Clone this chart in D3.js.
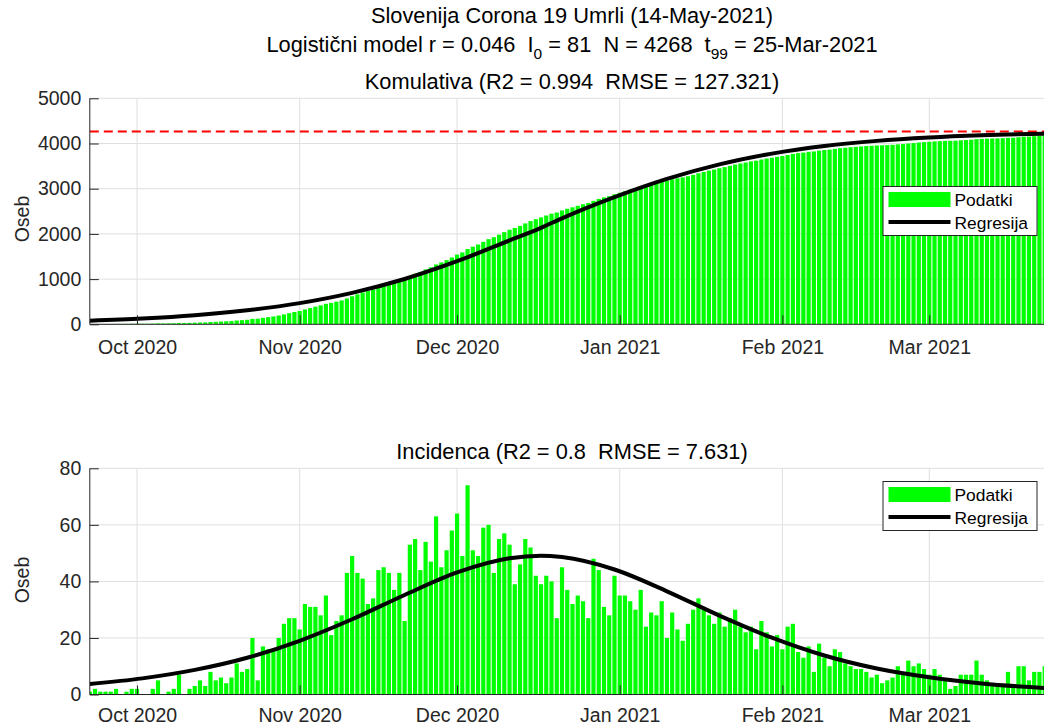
<!DOCTYPE html>
<html>
<head>
<meta charset="utf-8">
<script src="https://cdn.jsdelivr.net/npm/d3@7"></script>
<style>
  body { margin: 0; background: #fff; }
  text { font-family: "Liberation Sans", Arial, Helvetica, sans-serif; }
</style>
</head>
<body>
<svg id="chart" width="1044" height="725"></svg>
<script>
// ---- data ----
const startDay = "2020-09-22";   // first bar
const endDay = "2021-03-25";     // t99, right end of the x axis
const monthTicks = ["2020-10-01", "2020-11-01", "2020-12-01", "2021-01-01", "2021-02-01", "2021-03-01"];

// daily deaths (incidenca), one per day from startDay
const umrli = [
  1, 2, 1, 1, 1, 2, 0, 1, 2, 2,
  0, 0, 2, 5, 0, 1, 2, 7, 0, 2,
  3, 5, 3, 8, 5, 6, 4, 6, 11, 8,
  9, 20, 5, 17, 16, 16, 20, 25, 27, 27,
  23, 32, 31, 31, 28, 35, 21, 26, 28, 43,
  49, 43, 41, 32, 34, 44, 45, 43, 37, 43,
  26, 53, 55, 44, 54, 47, 63, 45, 51, 58,
  64, 49, 74, 51, 49, 59, 60, 43, 55, 57,
  53, 39, 46, 55, 52, 42, 39, 42, 40, 27,
  45, 37, 32, 35, 33, 27, 48, 44, 31, 28,
  42, 35, 35, 33, 30, 37, 24, 29, 28, 33,
  20, 29, 23, 19, 25, 30, 34, 31, 28, 25,
  29, 24, 27, 30, 24, 22, 24, 16, 26, 22,
  17, 21, 16, 24, 25, 15, 13, 17, 8, 18,
  13, 10, 16, 15, 11, 10, 9, 9, 8, 6,
  7, 4, 5, 6, 10, 7, 12, 10, 11, 9,
  7, 9, 7, 5, 2, 3, 7, 7, 7, 12,
  7, 5, 3, 3, 3, 8, 3, 10, 10, 5,
  8, 8, 10
];

// regression curves (day index from startDay)
const regDay = [0, 10, 20, 30, 40, 50, 60, 70, 80, 86, 90, 100, 110, 120, 130, 140, 150, 160, 170, 184];
const regKum = [81, 128, 200, 310, 468, 695, 1002, 1395, 1856, 2134, 2344, 2812, 3216, 3538, 3776, 3944, 4058, 4132, 4181, 4222];
const regInc = [3.7, 5.7, 8.7, 13.0, 19.0, 26.6, 35.2, 43.2, 48.2, 49.1, 48.6, 44.2, 36.5, 27.9, 20.1, 13.8, 9.2, 6.1, 3.9, 2.1];

const N = 4268;

// ---- layout ----
const svg = d3.select("#chart");
const parse = d3.utcParse("%Y-%m-%d");
const t0 = parse(startDay);
const dayOf = i => d3.utcDay.offset(t0, i);

const left = 89.8, right = 1055.2;
const x = d3.scaleUtc().domain([t0, parse(endDay)]).range([left, right]);
const step = x(dayOf(1)) - x(dayOf(0));
const barW = step * 0.8;

const axisCol = "#262626", gridCol = "#dfdfdf", green = "#00ff00";
const fmt = d3.utcFormat("%b %Y");

const kumulativa = d3.cumsum(umrli);

svg.append("rect").attr("width", 1044).attr("height", 725).attr("fill", "#fff");

// figure title (two lines)
svg.append("text").attr("x", 572).attr("y", 23).attr("text-anchor", "middle")
  .style("font-size", "21.8px").attr("fill", "#000")
  .text("Slovenija Corona 19 Umrli (14-May-2021)");

const t2 = svg.append("text").attr("x", 572).attr("y", 52).attr("text-anchor", "middle")
  .style("font-size", "21.8px").style("white-space", "pre").attr("fill", "#000");
t2.append("tspan").text("Logistični model r = 0.046  I");
t2.append("tspan").attr("dy", 7).style("font-size", "15.5px").text("0");
t2.append("tspan").attr("dy", -7).text(" = 81  N = 4268  t");
t2.append("tspan").attr("dy", 7).style("font-size", "15.5px").text("99");
t2.append("tspan").attr("dy", -7).text(" = 25-Mar-2021");

function panel(cfg) {
  const y = d3.scaleLinear().domain(cfg.domain).range([cfg.bottom, cfg.top]);
  const g = svg.append("g");
  const clipId = "clip" + cfg.id;
  svg.append("clipPath").attr("id", clipId).append("rect")
    .attr("x", left).attr("y", cfg.top - 2).attr("width", right - left).attr("height", cfg.bottom - cfg.top + 2);

  // grid
  g.append("g").selectAll("line").data(cfg.ticks).join("line")
    .attr("x1", left).attr("x2", right)
    .attr("y1", d => y(d)).attr("y2", d => y(d))
    .attr("stroke", gridCol).attr("stroke-width", 1);
  g.append("g").selectAll("line").data(monthTicks).join("line")
    .attr("x1", d => x(parse(d))).attr("x2", d => x(parse(d)))
    .attr("y1", cfg.top).attr("y2", cfg.bottom)
    .attr("stroke", gridCol).attr("stroke-width", 1);

  const plot = g.append("g").attr("clip-path", `url(#${clipId})`);

  // bars
  plot.append("g").selectAll("rect").data(cfg.values).join("rect")
    .attr("x", (d, i) => x(dayOf(i)) - barW / 2)
    .attr("width", barW)
    .attr("y", d => y(d))
    .attr("height", d => y(0) - y(d))
    .attr("fill", green);

  if (cfg.limit != null) {
    plot.append("line")
      .attr("x1", left).attr("x2", right)
      .attr("y1", y(cfg.limit)).attr("y2", y(cfg.limit))
      .attr("stroke", "#ff0000").attr("stroke-width", 2)
      .attr("stroke-dasharray", "9,5");
  }

  // regression line
  const line = d3.line()
    .x((d, i) => x(dayOf(regDay[i])))
    .y(d => y(d))
    .curve(d3.curveMonotoneX);
  plot.append("path").attr("d", line(cfg.reg))
    .attr("fill", "none").attr("stroke", "#000").attr("stroke-width", 4);

  // axes (ticks inward)
  const yAxis = d3.axisLeft(y).tickValues(cfg.ticks).tickFormat(d3.format("d")).tickSize(-9).tickPadding(8.5);
  const ya = g.append("g").attr("transform", `translate(${left},0)`).call(yAxis);
  const xAxis = d3.axisBottom(x).tickValues(monthTicks.map(parse)).tickFormat(fmt).tickSize(-9).tickPadding(cfg.xPad);
  const xa = g.append("g").attr("transform", `translate(0,${cfg.bottom})`).call(xAxis);
  [ya, xa].forEach(a => {
    a.select(".domain").attr("stroke", axisCol).attr("stroke-width", 1);
    a.selectAll(".tick line").attr("stroke", axisCol);
    a.selectAll(".tick text").attr("fill", axisCol).style("font-size", "19.5px")
      .style("font-family", "\"Liberation Sans\", Arial, sans-serif");
  });
  xa.select(".domain").attr("d", `M${left},0H${right}`);
  ya.select(".domain").attr("d", `M0,${cfg.bottom}V${cfg.top}`);

  // ylabel
  svg.append("text")
    .attr("transform", `translate(29,${cfg.ylabY}) rotate(-90)`)
    .attr("text-anchor", "middle").attr("fill", axisCol)
    .style("font-size", "19.5px").text("Oseb");

  // axes title
  svg.append("text").attr("x", 572).attr("y", cfg.titleY).attr("text-anchor", "middle")
    .style("font-size", "21.8px").style("white-space", "pre").attr("fill", "#000")
    .text(cfg.title);

  // legend
  const L = svg.append("g").attr("transform", `translate(${cfg.legX},${cfg.legY})`);
  L.append("rect").attr("x", 0.5).attr("y", 0.5).attr("width", 154).attr("height", 49)
    .attr("fill", "#fff").attr("stroke", axisCol).attr("stroke-width", 1);
  L.append("rect").attr("x", 6).attr("y", 6).attr("width", 62).attr("height", 15).attr("fill", green);
  L.append("text").attr("x", 72).attr("y", 20).attr("fill", "#000").style("font-size", "17.4px").text("Podatki");
  L.append("line").attr("x1", 6).attr("x2", 68).attr("y1", 36).attr("y2", 36)
    .attr("stroke", "#000").attr("stroke-width", 4);
  L.append("text").attr("x", 72).attr("y", 43).attr("fill", "#000").style("font-size", "17.4px").text("Regresija");
}

panel({
  id: "top", top: 98.3, bottom: 324.3, domain: [0, 5000],
  ticks: [0, 1000, 2000, 3000, 4000, 5000],
  values: kumulativa, reg: regKum, limit: N, xPad: 15.5,
  title: "Komulativa (R2 = 0.994  RMSE = 127.321)", titleY: 89,
  ylabY: 219, legX: 882.5, legY: 186
});

panel({
  id: "bot", top: 468.3, bottom: 694.5, domain: [0, 80],
  ticks: [0, 20, 40, 60, 80],
  values: umrli, reg: regInc, limit: null, xPad: 13.5,
  title: "Incidenca (R2 = 0.8  RMSE = 7.631)", titleY: 459,
  ylabY: 580, legX: 882.5, legY: 481
});
</script>
</body>
</html>
